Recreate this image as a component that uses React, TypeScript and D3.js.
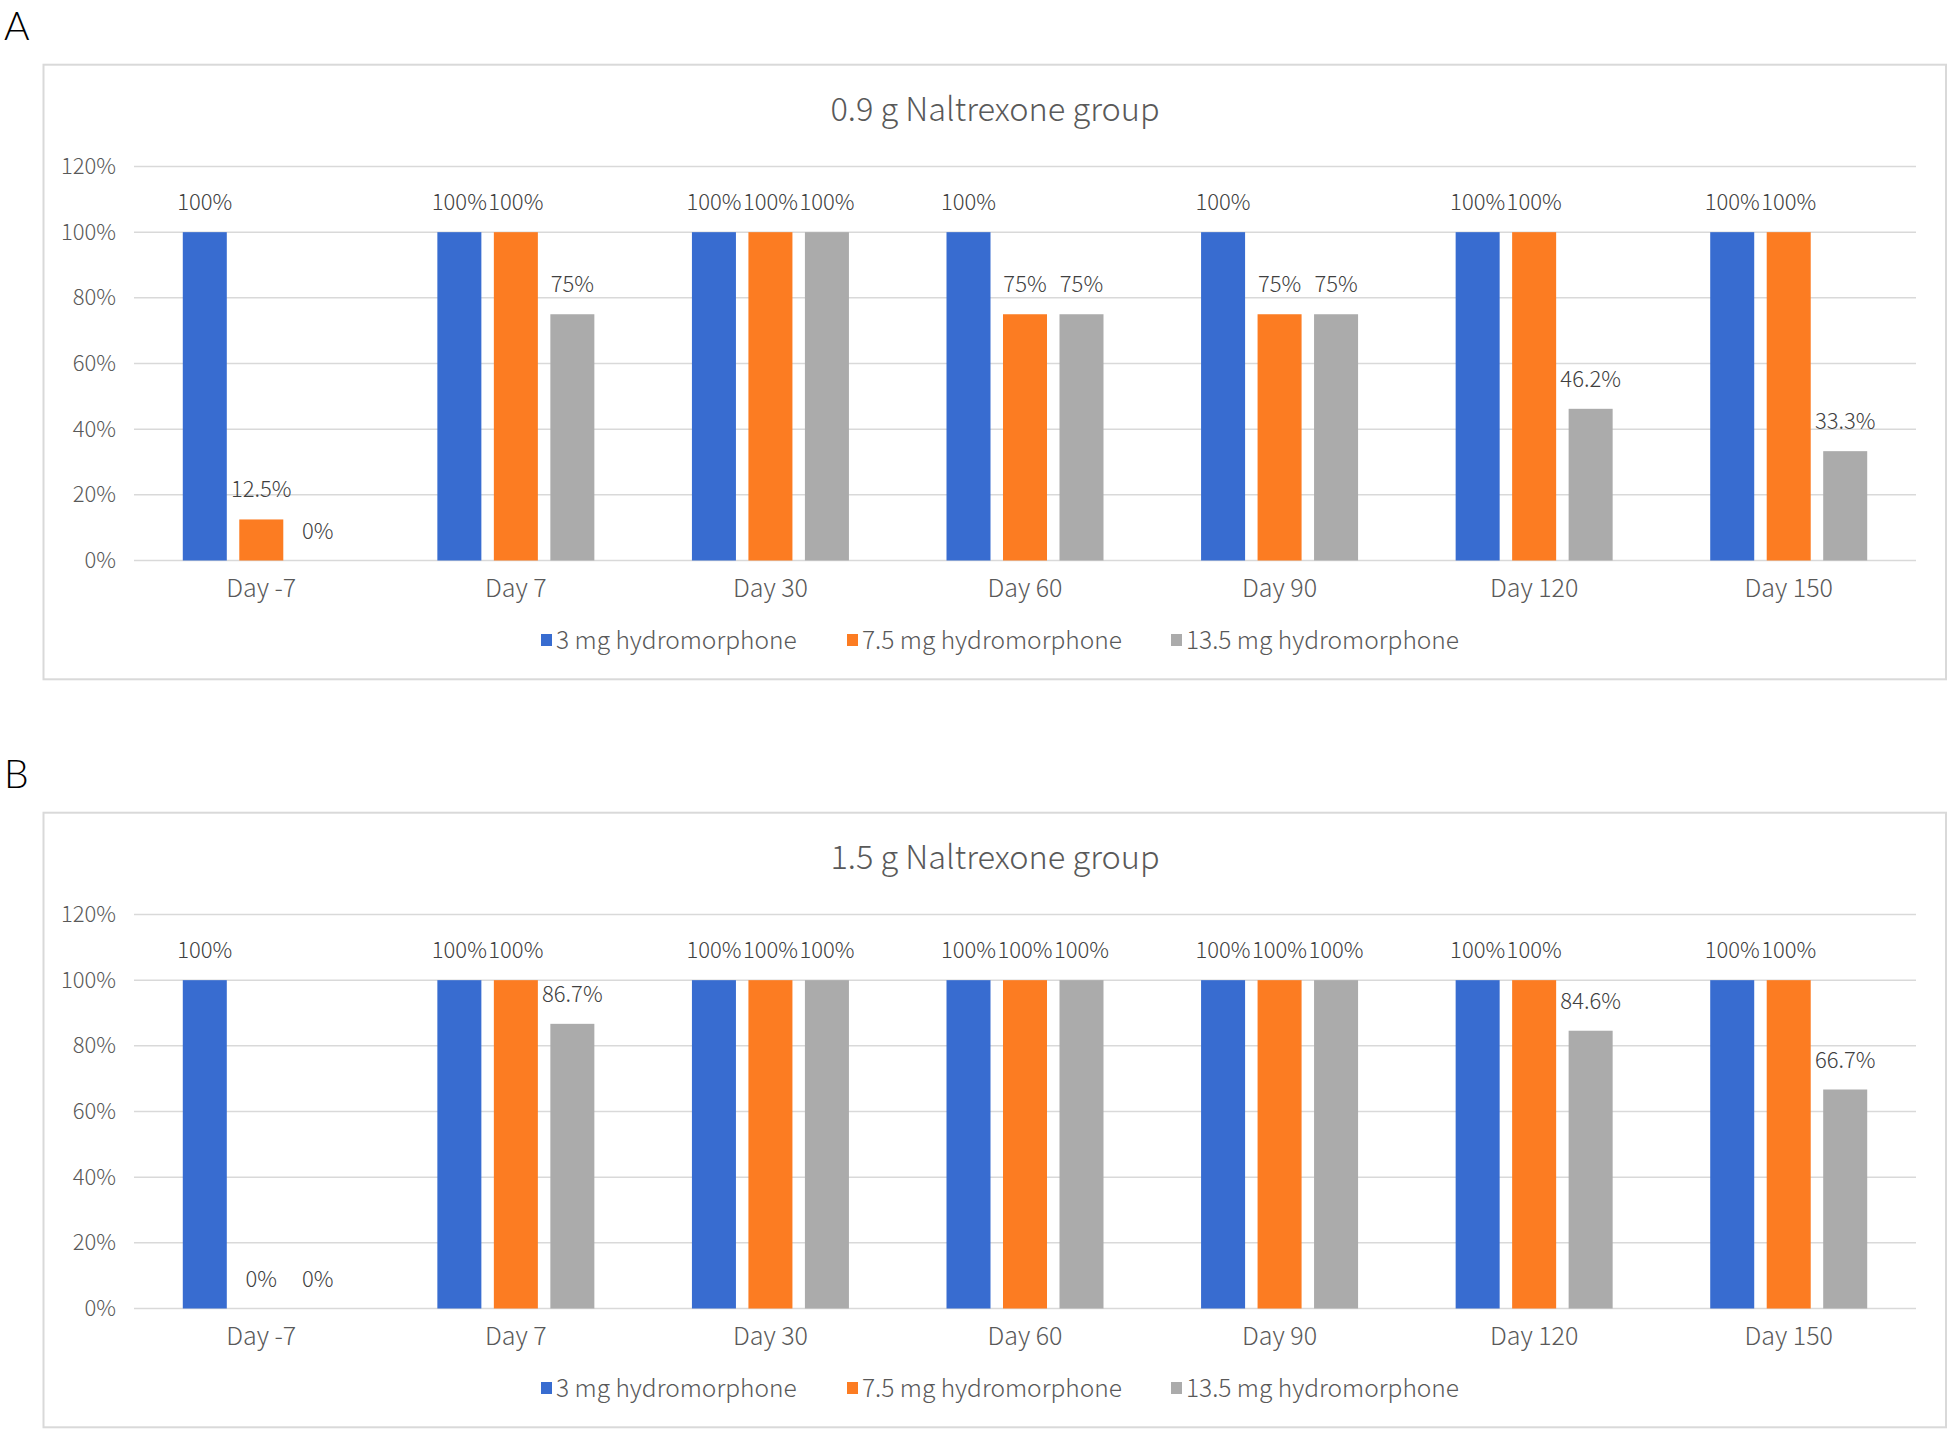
import * as d3 from "d3";

const WIDTH = 1949;
const HEIGHT = 1432;

const categories = ["Day -7", "Day 7", "Day 30", "Day 60", "Day 90", "Day 120", "Day 150"];
const seriesNames = ["3 mg hydromorphone", "7.5 mg hydromorphone", "13.5 mg hydromorphone"];
const seriesColors = ["#386cd0", "#fc7c22", "#ababab"];
const yTicks = [0, 0.2, 0.4, 0.6, 0.8, 1.0, 1.2];

// Panel A: 0.9 g Naltrexone group
const a3mg = [1, 1, 1, 1, 1, 1, 1];
const a75mg = [0.125, 1, 1, 0.75, 0.75, 1, 1];
const a135mg = [0, 0.75, 1, 0.75, 0.75, 0.462, 0.333];

// Panel B: 1.5 g Naltrexone group
const b3mg = [1, 1, 1, 1, 1, 1, 1];
const b75mg = [0, 1, 1, 1, 1, 1, 1];
const b135mg = [0, 0.867, 1, 1, 1, 0.846, 0.667];

const panels = [
  { letter: "A", title: "0.9 g Naltrexone group", series: [a3mg, a75mg, a135mg] },
  { letter: "B", title: "1.5 g Naltrexone group", series: [b3mg, b75mg, b135mg] },
];

const FONT = "'Noto Sans CJK SC', 'Noto Sans', sans-serif";
const PANEL_STEP = 748;
const PLOT = { left: 134, right: 1916, top: 166.5, bottom: 560.5 };

const fmt = (v: number) => {
  const p = Math.round(v * 1000) / 10;
  return `${p}%`;
};

const Panel = ({ index }: { index: number }) => {
  const panel = panels[index];
  const x0 = d3.scaleBand().domain(categories).range([PLOT.left, PLOT.right]);
  const x1 = d3.scaleBand().domain(seriesNames).range([0, 157]).paddingInner(0.221);
  const y = d3.scaleLinear().domain([0, 1.2]).range([PLOT.bottom, PLOT.top]);
  const groupOffset = (x0.bandwidth() - 157) / 2;

  const legendX = [541, 847, 1171];

  return (
    <g transform={`translate(0,${index * PANEL_STEP})`}>
      <text x={4} y={40} fontFamily="Lato, 'Liberation Sans', sans-serif" fontSize={39} fontWeight={300} fill="#000">
        {panel.letter}
      </text>
      <rect x={43.5} y={64.7} width={1902.5} height={614.6} fill="#fff" stroke="#d9d9d9" strokeWidth={2} />
      <text
        x={995}
        y={106}
        textAnchor="middle"
        dominantBaseline="central"
        fontFamily={FONT}
        fontSize={32.5}
        fontWeight={300}
        fill="#595959"
      >
        {panel.title}
      </text>
      {yTicks.map((t) => (
        <g key={t}>
          <line x1={PLOT.left} x2={PLOT.right} y1={y(t)} y2={y(t)} stroke="#d9d9d9" strokeWidth={1.5} />
          <text
            x={116}
            y={y(t) - 2.5}
            textAnchor="end"
            dominantBaseline="central"
            fontFamily={FONT}
            fontSize={22}
            fontWeight={300}
            fill="#595959"
          >
            {`${Math.round(t * 100)}%`}
          </text>
        </g>
      ))}
      {categories.map((c, ci) => (
        <g key={c}>
          {panel.series.map((vals, si) => {
            const bx = (x0(c) ?? 0) + groupOffset + (x1(seriesNames[si]) ?? 0);
            const v = vals[ci];
            return (
              <g key={si}>
                <rect x={bx} y={y(v)} width={x1.bandwidth()} height={y(0) - y(v)} fill={seriesColors[si]} />
                <text
                  x={bx + x1.bandwidth() / 2}
                  y={y(v) - 32}
                  textAnchor="middle"
                  dominantBaseline="central"
                  fontFamily={FONT}
                  fontSize={22}
                  fontWeight={300}
                  fill="#404040"
                >
                  {fmt(v)}
                </text>
              </g>
            );
          })}
          <text
            x={(x0(c) ?? 0) + x0.bandwidth() / 2}
            y={585.5}
            textAnchor="middle"
            dominantBaseline="central"
            fontFamily={FONT}
            fontSize={25}
            fontWeight={300}
            fill="#595959"
          >
            {c}
          </text>
        </g>
      ))}
      {seriesNames.map((s, si) => (
        <g key={s} transform={`translate(${legendX[si]},640)`}>
          <rect x={0} y={-6} width={11} height={12} fill={seriesColors[si]} />
          <text x={15} y={-1.5} dominantBaseline="central" fontFamily={FONT} fontSize={24.5} fontWeight={300} fill="#595959">
            {s}
          </text>
        </g>
      ))}
    </g>
  );
};

export default function App() {
  return (
    <svg
      width={WIDTH}
      height={HEIGHT}
      style={{ position: "absolute", left: 0, top: 0, background: "#fff" }}
    >
      <rect width={WIDTH} height={HEIGHT} fill="#fff" />
      {panels.map((_, i) => (
        <Panel key={i} index={i} />
      ))}
    </svg>
  );
}
